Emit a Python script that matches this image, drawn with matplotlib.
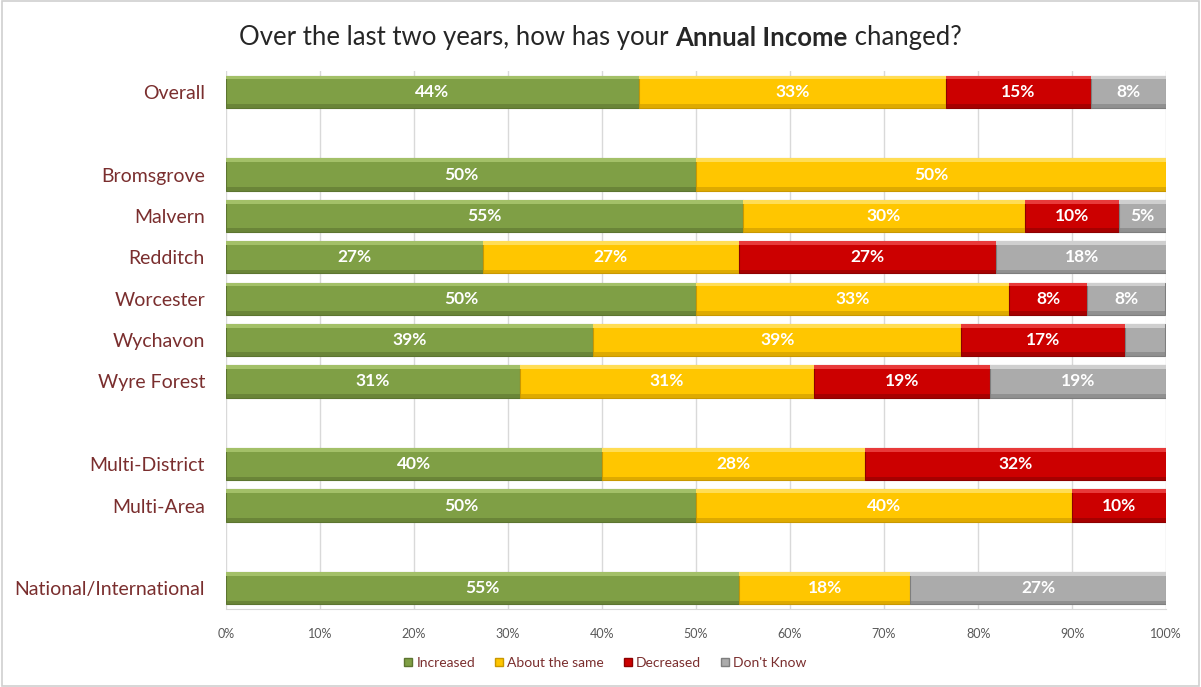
import matplotlib.pyplot as plt
from matplotlib.patches import Rectangle

plt.rcParams['font.family'] = ['Lato', 'DejaVu Sans']

categories = ["Overall", "", "Bromsgrove", "Malvern", "Redditch", "Worcester",
              "Wychavon", "Wyre Forest", "", "Multi-District", "Multi-Area", "",
              "National/International"]
increased = [43.9, 0, 50.0, 55.0, 27.3, 50.0, 39.1, 31.25, 0, 40.0, 50.0, 0, 54.6]
same = [32.7, 0, 50.0, 30.0, 27.3, 33.3, 39.1, 31.25, 0, 28.0, 40.0, 0, 18.2]
decreased = [15.4, 0, 0, 10.0, 27.3, 8.3, 17.4, 18.75, 0, 32.0, 10.0, 0, 0]
dont_know = [8.0, 0, 0, 5.0, 18.2, 8.3, 4.3, 18.75, 0, 0, 0, 0, 27.2]
series_names = ["Increased", "About the same", "Decreased", "Don't Know"]
colors = ["#7F9F45", "#FFC600", "#CC0000", "#ABABAB"]
light = ["#A3C068", "#FFDD55", "#E83A3A", "#CFCFCF"]
dark = ["#5C7530", "#C99800", "#8E0000", "#7E7E7E"]

fig = plt.figure(figsize=(12.01, 6.87), dpi=100)
ax = fig.add_axes([0.188, 0.1135, 0.783, 0.783])
fig.patches.append(Rectangle((0.002, 0.002), 0.996, 0.996, transform=fig.transFigure,
                             fill=False, edgecolor="#D0D0D0", linewidth=1.2))

y = list(range(len(categories)))
h = 0.78
left = [0] * len(categories)
for vals, name, c, lc, dc in zip([increased, same, decreased, dont_know], series_names,
                                 colors, light, dark):
    rows = [i for i, v in enumerate(vals) if v > 0]
    yy = [y[i] for i in rows]
    ww = [vals[i] for i in rows]
    ll = [left[i] for i in rows]
    ax.barh(yy, ww, left=ll, height=h, color=c, edgecolor=dc,
            linewidth=0.8, label=name, zorder=3)
    # bevel: highlight on top, shade on bottom
    ax.barh([v - h / 2 + 0.045 for v in yy], ww, left=ll, height=0.09,
            color=lc, linewidth=0, zorder=4)
    ax.barh([v + h / 2 - 0.045 for v in yy], ww, left=ll, height=0.09,
            color=dc, alpha=0.6, linewidth=0, zorder=4)
    for yi, v, l in zip(yy, ww, ll):
        if v >= 5:
            ax.text(l + v / 2, yi, f"{v:.0f}%", ha="center", va="center",
                    color="white", fontsize=12.5, fontweight="bold", zorder=5)
    left = [a + b for a, b in zip(left, vals)]

ax.set_ylim(len(categories) - 0.5, -0.5)
ax.set_xlim(0, 100)
ax.set_yticks(y)
ax.set_yticklabels(categories, fontsize=14, color="#7A2E2E")
ax.set_xticks(range(0, 101, 10))
ax.set_xticklabels([f"{t}%" for t in range(0, 101, 10)], fontsize=9, color="#595959")
ax.tick_params(axis="y", length=0, pad=15)
ax.tick_params(axis="x", length=0, pad=14)
ax.grid(axis="x", color="#D9D9D9", linewidth=1, zorder=0)
for s in ["top", "right", "left"]:
    ax.spines[s].set_visible(False)
ax.spines["bottom"].set_color("#D9D9D9")

# title in three pieces so the middle can be bold
parts = [("Over the last two years, how has your ", "normal"),
         ("Annual Income", "bold"),
         (" changed?", "normal")]
fig.canvas.draw()
r = fig.canvas.get_renderer()
texts = []
for s, w in parts:
    t = fig.text(0, 0.945, s, ha="left", va="center", fontsize=18.5,
                 fontweight=w, color="#262626")
    texts.append(t)
widths = [t.get_window_extent(r).width for t in texts]
x0 = (fig.bbox.width - sum(widths)) / 2
for t, w in zip(texts, widths):
    t.set_x(x0 / fig.bbox.width)
    x0 += w

handles = [Rectangle((0, 0), 1, 1, facecolor=c, edgecolor=d) for c, d in zip(colors, dark)]
leg = fig.legend(handles, series_names, loc="center", bbox_to_anchor=(0.504, 0.035),
                 ncol=4, frameon=False, fontsize=10, handlelength=0.6, handleheight=0.6,
                 handletextpad=0.3, columnspacing=1.4)
for t in leg.get_texts():
    t.set_color("#7A2E2E")

fig.savefig("out.png", dpi=100)
